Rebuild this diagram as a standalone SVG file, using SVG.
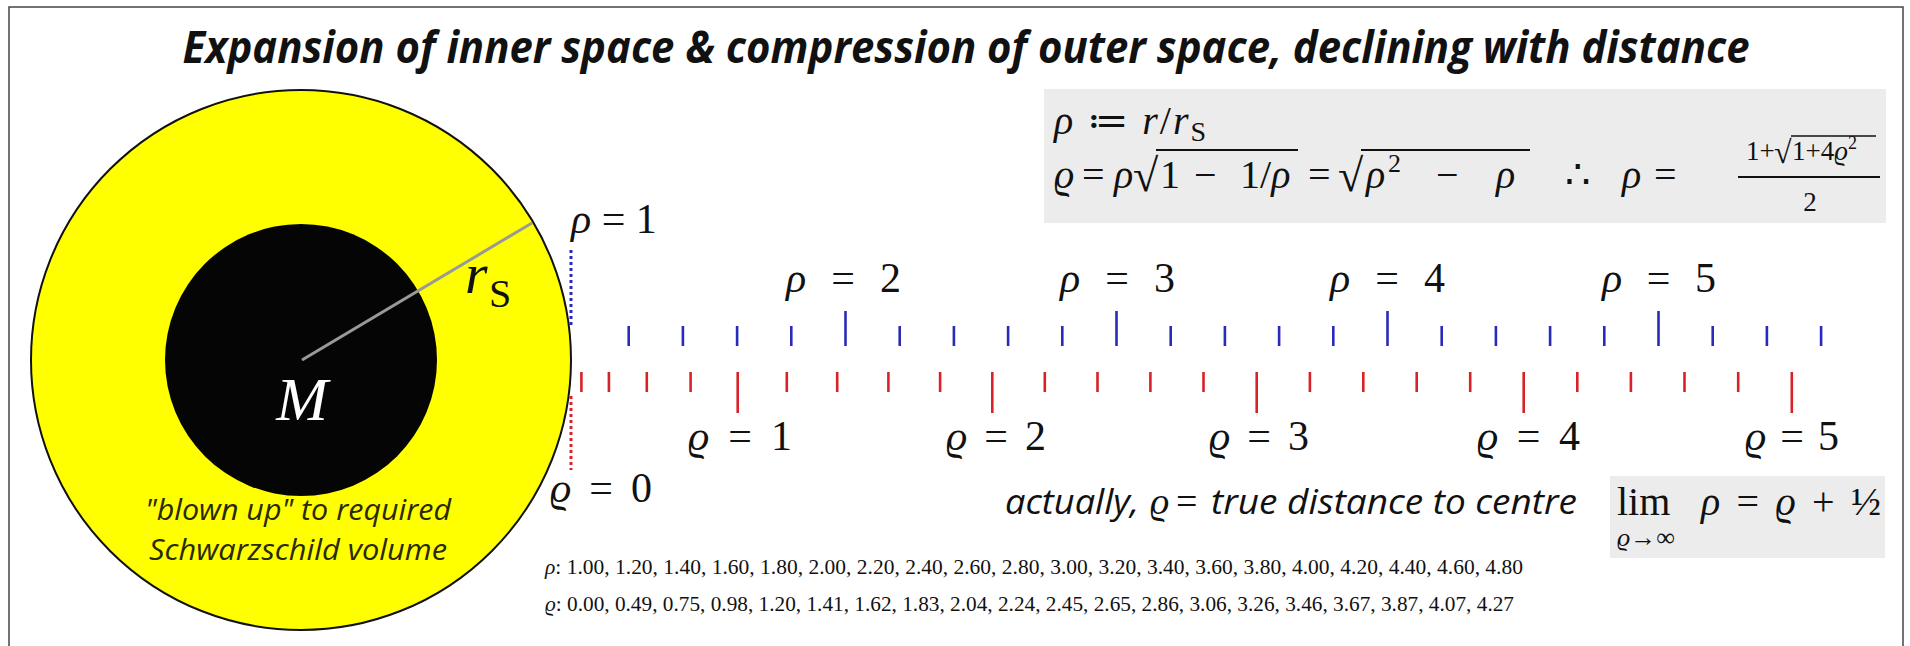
<svg xmlns="http://www.w3.org/2000/svg" width="1910" height="646" viewBox="0 0 1910 646">
<style>
.m{font-family:"Liberation Serif","DejaVu Serif",serif;fill:#111}
.i{font-style:italic}
.sans{font-family:"Open Sans","Liberation Sans",sans-serif}
.bt{stroke:#2a2ab8;stroke-width:2.6}
.rt{stroke:#d92228;stroke-width:2.6}
.box{fill:#ececec}
</style>
<rect x="9" y="7" width="1894" height="650" fill="#fff" stroke="#444" stroke-width="1.5"/>
<g id="title">
<text class="sans" x="966" y="63" text-anchor="middle" font-size="45" font-weight="bold" font-style="italic" textLength="1567" lengthAdjust="spacingAndGlyphs" fill="#111">Expansion of inner space &amp; compression of outer space, declining with distance</text>
</g>
<g id="mass">
<circle cx="301" cy="360" r="270" fill="#ffff00" stroke="#111" stroke-width="2"/>
<circle cx="301" cy="360" r="136" fill="#050505"/>
<line x1="302" y1="360" x2="532" y2="223" stroke="#999" stroke-width="3"/>
<text class="m i" x="302" y="420" text-anchor="middle" font-size="62" style="fill:#fff">M</text>
<text class="m i" x="465" y="293" font-size="58">r</text>
<text class="m" x="489" y="307" font-size="40">S</text>
<text class="sans" font-style="italic" font-size="29" fill="#2a2a00" text-anchor="middle" x="298" y="520" textLength="306" lengthAdjust="spacingAndGlyphs">"blown up" to required</text>
<text class="sans" font-style="italic" font-size="29" fill="#2a2a00" text-anchor="middle" x="298" y="560" textLength="298" lengthAdjust="spacingAndGlyphs">Schwarzschild volume</text>
</g>
<g id="formula">
<rect class="box" x="1044" y="89" width="842" height="134"/>
<text class="m" font-size="40" x="1054" y="134" textLength="152" lengthAdjust="spacing"><tspan class="i">ρ</tspan> ≔ <tspan class="i">r</tspan>/<tspan class="i">r</tspan><tspan font-size="28" dy="7">S</tspan></text>
<text class="m i" font-size="40" x="1054" y="188">ϱ</text>
<text class="m" font-size="40" x="1082" y="188">=</text>
<text class="m i" font-size="40" x="1114" y="188">ρ</text>
<text class="m" font-size="46" x="1133" y="191">√</text>
<line x1="1156" y1="150" x2="1298" y2="150" stroke="#111" stroke-width="2"/>
<text class="m" font-size="40" x="1160" y="188">1</text>
<text class="m" font-size="40" x="1194" y="188">−</text>
<text class="m" font-size="40" x="1240" y="188">1/<tspan class="i">ρ</tspan></text>
<text class="m" font-size="40" x="1308" y="188">=</text>
<text class="m" font-size="46" x="1338" y="191">√</text>
<line x1="1361" y1="150" x2="1530" y2="150" stroke="#111" stroke-width="2"/>
<text class="m i" font-size="40" x="1366" y="188">ρ</text>
<text class="m" font-size="26" x="1388" y="172">2</text>
<text class="m" font-size="40" x="1436" y="188">−</text>
<text class="m i" font-size="40" x="1496" y="188">ρ</text>
<text class="m" font-size="40" x="1565" y="188">∴</text>
<text class="m i" font-size="40" x="1622" y="188">ρ</text>
<text class="m" font-size="40" x="1654" y="188">=</text>
<text class="m" font-size="27" x="1746" y="160">1+</text>
<text class="m" font-size="32" x="1774" y="163">√</text>
<line x1="1791" y1="136" x2="1876" y2="136" stroke="#111" stroke-width="1.5"/>
<text class="m" font-size="27" x="1792" y="160">1+4<tspan class="i">ϱ</tspan><tspan font-size="18" dy="-11">2</tspan></text>
<line x1="1738" y1="177" x2="1880" y2="177" stroke="#111" stroke-width="2"/>
<text class="m" font-size="27" x="1810" y="211" text-anchor="middle">2</text>
</g>
<g id="limit">
<rect class="box" x="1610" y="476" width="275" height="82"/>
<text class="m" font-size="40" x="1617" y="515">lim</text>
<text class="m" font-size="26" x="1617" y="546"><tspan class="i">ϱ</tspan>→∞</text>
<text class="m" font-size="40" x="1701" y="515" textLength="180" lengthAdjust="spacing"><tspan class="i">ρ</tspan> = <tspan class="i">ϱ</tspan> + ½</text>
</g>
<g id="note">
<text class="sans" font-style="italic" font-size="35" x="1005" y="514" textLength="134" lengthAdjust="spacingAndGlyphs" fill="#111">actually,</text>
<text class="m i" font-size="38" x="1150" y="514">ϱ</text>
<text class="m" font-size="38" x="1176" y="514">=</text>
<text class="sans" font-style="italic" font-size="35" x="1211" y="514" textLength="366" lengthAdjust="spacingAndGlyphs" fill="#111">true distance to centre</text>
</g>
<g id="rho-labels" class="m" font-size="42">
<text x="571" y="233"><tspan class="i">ρ</tspan> = 1</text>
<text x="786" y="292" textLength="115" lengthAdjust="spacing"><tspan class="i">ρ</tspan> = 2</text>
<text x="1060" y="292" textLength="115" lengthAdjust="spacing"><tspan class="i">ρ</tspan> = 3</text>
<text x="1330" y="292" textLength="115" lengthAdjust="spacing"><tspan class="i">ρ</tspan> = 4</text>
<text x="1602" y="292" textLength="114" lengthAdjust="spacing"><tspan class="i">ρ</tspan> = 5</text>
</g>
<g id="varrho-labels" class="m" font-size="42">
<text x="550" y="502" textLength="102" lengthAdjust="spacing"><tspan class="i">ϱ</tspan> = 0</text>
<text x="688" y="450" textLength="104" lengthAdjust="spacing"><tspan class="i">ϱ</tspan> = 1</text>
<text x="946" y="450" textLength="100" lengthAdjust="spacing"><tspan class="i">ϱ</tspan> = 2</text>
<text x="1209" y="450" textLength="100" lengthAdjust="spacing"><tspan class="i">ϱ</tspan> = 3</text>
<text x="1477" y="450" textLength="103" lengthAdjust="spacing"><tspan class="i">ϱ</tspan> = 4</text>
<text x="1745" y="450" textLength="94" lengthAdjust="spacing"><tspan class="i">ϱ</tspan> = 5</text>
</g>
<g id="connectors">
<line x1="571" y1="250" x2="571" y2="328" stroke="#2a2ab8" stroke-width="3" stroke-dasharray="3 3"/>
<line x1="571" y1="396" x2="571" y2="470" stroke="#d92228" stroke-width="3" stroke-dasharray="3 3"/>
<g id="blue-ticks" class="bt">
<line x1="628.7" y1="326" x2="628.7" y2="346"/>
<line x1="682.9" y1="326" x2="682.9" y2="346"/>
<line x1="737.1" y1="326" x2="737.1" y2="346"/>
<line x1="791.3" y1="326" x2="791.3" y2="346"/>
<line x1="845.5" y1="311" x2="845.5" y2="346"/>
<line x1="899.7" y1="326" x2="899.7" y2="346"/>
<line x1="953.9" y1="326" x2="953.9" y2="346"/>
<line x1="1008.1" y1="326" x2="1008.1" y2="346"/>
<line x1="1062.3" y1="326" x2="1062.3" y2="346"/>
<line x1="1116.5" y1="311" x2="1116.5" y2="346"/>
<line x1="1170.7" y1="326" x2="1170.7" y2="346"/>
<line x1="1224.9" y1="326" x2="1224.9" y2="346"/>
<line x1="1279.1" y1="326" x2="1279.1" y2="346"/>
<line x1="1333.3" y1="326" x2="1333.3" y2="346"/>
<line x1="1387.5" y1="311" x2="1387.5" y2="346"/>
<line x1="1441.7" y1="326" x2="1441.7" y2="346"/>
<line x1="1495.9" y1="326" x2="1495.9" y2="346"/>
<line x1="1550.1" y1="326" x2="1550.1" y2="346"/>
<line x1="1604.3" y1="326" x2="1604.3" y2="346"/>
<line x1="1658.5" y1="311" x2="1658.5" y2="346"/>
<line x1="1712.7" y1="326" x2="1712.7" y2="346"/>
<line x1="1766.9" y1="326" x2="1766.9" y2="346"/>
<line x1="1821.1" y1="326" x2="1821.1" y2="346"/>
</g>
<g id="red-ticks" class="rt">
<line x1="581.4" y1="372" x2="581.4" y2="392"/>
<line x1="608.9" y1="372" x2="608.9" y2="392"/>
<line x1="646.8" y1="372" x2="646.8" y2="392"/>
<line x1="690.6" y1="372" x2="690.6" y2="392"/>
<line x1="737.7" y1="372" x2="737.7" y2="413"/>
<line x1="786.8" y1="372" x2="786.8" y2="392"/>
<line x1="837.2" y1="372" x2="837.2" y2="392"/>
<line x1="888.4" y1="372" x2="888.4" y2="392"/>
<line x1="940.1" y1="372" x2="940.1" y2="392"/>
<line x1="992.3" y1="372" x2="992.3" y2="413"/>
<line x1="1044.8" y1="372" x2="1044.8" y2="392"/>
<line x1="1097.5" y1="372" x2="1097.5" y2="392"/>
<line x1="1150.4" y1="372" x2="1150.4" y2="392"/>
<line x1="1203.5" y1="372" x2="1203.5" y2="392"/>
<line x1="1256.7" y1="372" x2="1256.7" y2="413"/>
<line x1="1309.9" y1="372" x2="1309.9" y2="392"/>
<line x1="1363.3" y1="372" x2="1363.3" y2="392"/>
<line x1="1416.7" y1="372" x2="1416.7" y2="392"/>
<line x1="1470.2" y1="372" x2="1470.2" y2="392"/>
<line x1="1523.7" y1="372" x2="1523.7" y2="413"/>
<line x1="1577.3" y1="372" x2="1577.3" y2="392"/>
<line x1="1630.9" y1="372" x2="1630.9" y2="392"/>
<line x1="1684.5" y1="372" x2="1684.5" y2="392"/>
<line x1="1738.2" y1="372" x2="1738.2" y2="392"/>
<line x1="1791.8" y1="372" x2="1791.8" y2="413"/>
</g>
</g>
<g id="value-lists" class="m" font-size="22">
<text x="545" y="574" textLength="978" lengthAdjust="spacingAndGlyphs"><tspan class="i">ρ</tspan>: 1.00, 1.20, 1.40, 1.60, 1.80, 2.00, 2.20, 2.40, 2.60, 2.80, 3.00, 3.20, 3.40, 3.60, 3.80, 4.00, 4.20, 4.40, 4.60, 4.80</text>
<text x="545" y="611" textLength="969" lengthAdjust="spacingAndGlyphs"><tspan class="i">ϱ</tspan>: 0.00, 0.49, 0.75, 0.98, 1.20, 1.41, 1.62, 1.83, 2.04, 2.24, 2.45, 2.65, 2.86, 3.06, 3.26, 3.46, 3.67, 3.87, 4.07, 4.27</text>
</g>
</svg>
